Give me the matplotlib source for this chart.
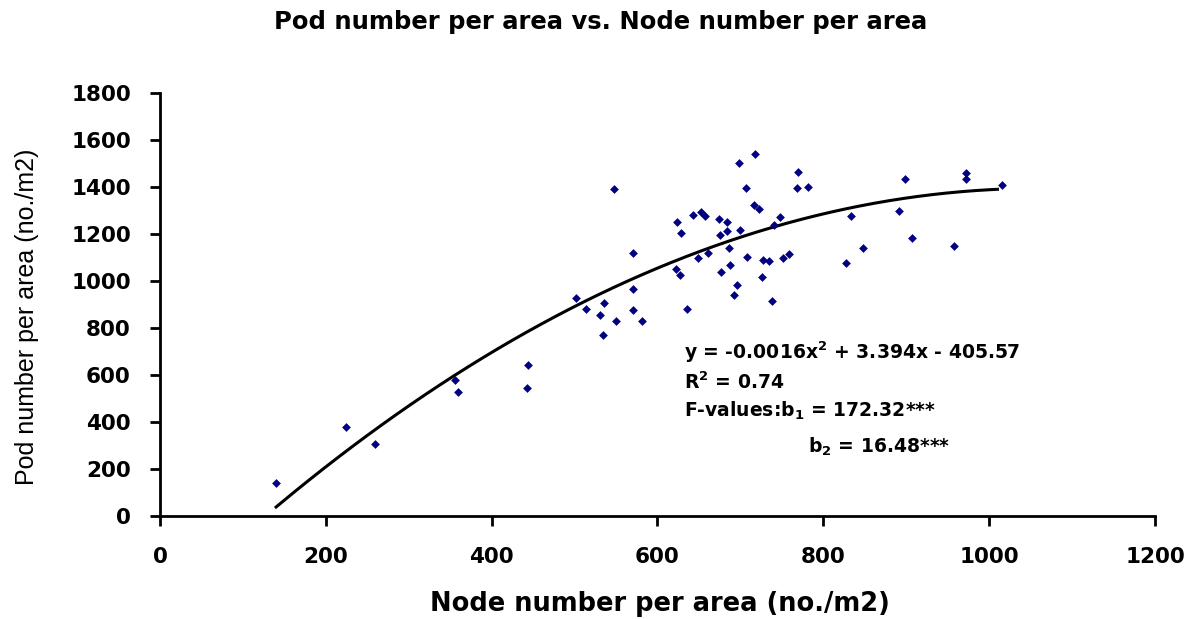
import matplotlib
matplotlib.use("Agg")
import matplotlib.pyplot as plt
import numpy as np

plt.rcParams['font.family'] = ['DejaVu Sans']
plt.rcParams['mathtext.fontset'] = 'custom'
plt.rcParams['mathtext.bf'] = 'DejaVu Sans:bold'
plt.rcParams['mathtext.rm'] = 'DejaVu Sans:bold'
plt.rcParams['mathtext.default'] = 'bf'

# node number per area (x) and pod number per area (y)
node = [140, 224, 259, 356, 359, 444, 443, 502, 514, 536, 531, 550, 571, 571,
        581, 534, 635, 692, 696, 738, 547, 571, 622, 627, 624, 628, 643, 653,
        657, 649, 661, 674, 684, 675, 684, 686, 700, 677, 688, 708, 698, 717,
        707, 716, 722, 727, 735, 726, 741, 748, 751, 758, 769, 768, 781, 833,
        891, 898, 972, 972, 1015, 907, 958, 848, 827]
pod = [140, 377, 307, 580, 526, 641, 545, 929, 879, 907, 856, 828, 964, 875,
       828, 769, 879, 939, 984, 914, 1391, 1121, 1052, 1025, 1253, 1203, 1281, 1294,
       1276, 1099, 1121, 1263, 1249, 1197, 1213, 1142, 1217, 1038, 1067, 1102, 1504, 1541,
       1394, 1323, 1305, 1088, 1084, 1017, 1239, 1271, 1096, 1116, 1465, 1394, 1398, 1277,
       1298, 1436, 1460, 1436, 1408, 1185, 1149, 1139, 1075]

# quadratic fit coefficients
a, b, c = -0.0016, 3.394, -405.57
fit_range = (140, 1010)

xticks = [0, 200, 400, 600, 800, 1000, 1200]
yticks = [0, 200, 400, 600, 800, 1000, 1200, 1400, 1600, 1800]

fig = plt.figure(figsize=(12.01, 6.19), dpi=100)
ax = fig.add_axes([160 / 1201, 1 - 516 / 619, 995 / 1201, 423 / 619])

ax.scatter(node, pod, marker='D', s=20, color='#000080', linewidths=0, zorder=3)

xs = np.linspace(fit_range[0], fit_range[1], 200)
ax.plot(xs, a * xs**2 + b * xs + c, color='black', linewidth=2.2, zorder=2)

ax.set_xlim(0, 1200)
ax.set_ylim(0, 1800)
ax.set_xticks(xticks)
ax.set_yticks(yticks)
ax.tick_params(axis='both', direction='out', length=7, width=2, labelsize=15.5)
ax.tick_params(axis='x', pad=15)
ax.tick_params(axis='y', pad=14)
for lbl in ax.get_xticklabels() + ax.get_yticklabels():
    lbl.set_fontweight('bold')
for side in ['top', 'right']:
    ax.spines[side].set_visible(False)
for side in ['left', 'bottom']:
    ax.spines[side].set_linewidth(2)

ax.set_xlabel('Node number per area (no./m2)', fontsize=18.5, fontweight='bold', va='center')
ax.xaxis.set_label_coords(0.502, -0.208)
ax.set_ylabel('Pod number per area (no./m2)', fontsize=18, family='Liberation Sans', va='center')
ax.yaxis.set_label_coords(-0.134, 0.47)
fig.text(0.5, 1 - 22 / 619, 'Pod number per area vs. Node number per area',
         fontsize=17.5, fontweight='bold', ha='center', va='center')

tx = dict(fontsize=13.5, fontweight='bold', va='center', ha='left', transform=ax.transData)
ax.text(632, 698, r'y = -0.0016x$^{2}$ + 3.394x - 405.57', **tx)
ax.text(632, 570, r'R$^{2}$ = 0.74', **tx)
ax.text(632, 447, r'F-values:b$_{1}$ = 172.32***', **tx)
ax.text(782, 294, r'b$_{2}$ = 16.48***', **tx)

fig.savefig('out.png', dpi=100)
